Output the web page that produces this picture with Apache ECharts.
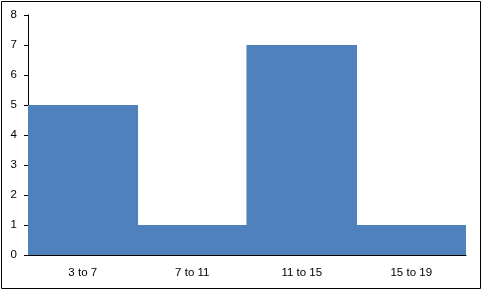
<!DOCTYPE html>
<html><head><meta charset="utf-8">
<script src="https://cdn.jsdelivr.net/npm/echarts@6/dist/echarts.min.js"></script>
<style>html,body{margin:0;padding:0;background:#fff}#c{width:483px;height:291px}</style>
</head><body><div id="c"></div>
<script>
const categories = ['3 to 7', '7 to 11', '11 to 15', '15 to 19'];
const counts = [5, 1, 7, 1];
const yTicks = {min: 0, max: 8, interval: 1};

const chart = echarts.init(document.getElementById('c'));
chart.setOption({
  animation: false,
  graphic: [{type: 'rect', shape: {x: 1.5, y: 1.5, width: 479, height: 287}, style: {fill: 'none', stroke: '#000', lineWidth: 1}, silent: true}],
  grid: {left: 28, right: 17, top: 15, bottom: 36, containLabel: false},
  xAxis: {
    type: 'category', data: categories,
    axisLine: {lineStyle: {color: '#000', width: 1}},
    axisTick: {show: false},
    axisLabel: {color: '#000', fontFamily: 'Liberation Sans', fontSize: 11.5, margin: 12}
  },
  yAxis: {
    type: 'value', min: yTicks.min, max: yTicks.max, interval: yTicks.interval,
    axisLine: {show: true, lineStyle: {color: '#000', width: 1}},
    axisTick: {show: true, length: 4, lineStyle: {color: '#000'}},
    splitLine: {show: false},
    axisLabel: {color: '#000', fontFamily: 'Liberation Sans', fontSize: 11.5, margin: 11}
  },
  series: [{
    type: 'bar', data: counts, barWidth: '101%', z: 1,
    itemStyle: {color: '#4F81BD'}
  }]
});
</script></body></html>
